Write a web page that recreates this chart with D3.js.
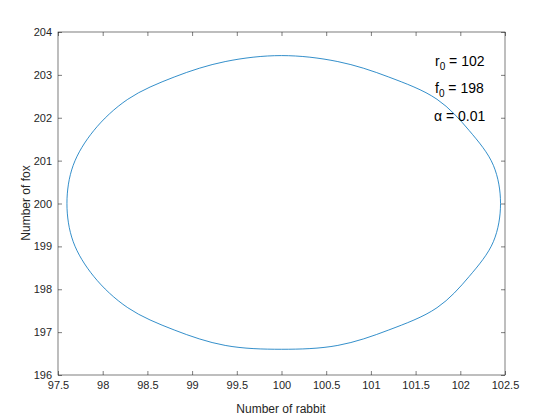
<!DOCTYPE html>
<html><head><meta charset="utf-8">
<script src="https://cdn.jsdelivr.net/npm/d3@7"></script>
<style>body{margin:0;background:#fff}text{font-family:"Liberation Sans",Arial,sans-serif}</style>
</head><body><svg id="c" width="560" height="420"></svg>
<script>
const rabbit=[102.45,102.37,102.1,101.74,101.2,100.63,100.0,99.37,98.8,98.28,97.9,97.67,97.6,97.67,97.9,98.28,98.8,99.37,100.0,100.63,101.2,101.74,102.1,102.37];
const fox=[200.0,200.89,201.7,202.43,202.95,203.31,203.45,203.31,202.95,202.43,201.7,200.89,200.0,199.11,198.3,197.57,197.05,196.69,196.6,196.69,197.05,197.57,198.3,199.11];
const xTicks=[97.5,98,98.5,99,99.5,100,100.5,101,101.5,102,102.5];
const yTicks=[196,197,198,199,200,201,202,203,204];
const svg=d3.select("#c");
const L=58,R=505,T=32,B=375;
const x=d3.scaleLinear().domain([97.5,102.5]).range([L,R]);
const y=d3.scaleLinear().domain([196,204]).range([B,T]);
svg.append("rect").attr("x",L).attr("y",T).attr("width",R-L).attr("height",B-T).attr("fill","#fff").attr("stroke","#262626").attr("stroke-width",0.6);
svg.append("g").attr("transform",`translate(0,${B})`).call(d3.axisBottom(x).tickValues(xTicks).tickFormat(d3.format("")).tickSize(-4).tickPadding(6));
svg.append("g").attr("transform",`translate(${L},0)`).call(d3.axisLeft(y).tickValues(yTicks).tickSize(-4).tickPadding(6));
svg.append("g").attr("transform",`translate(0,${T})`).call(d3.axisTop(x).tickValues(xTicks).tickFormat("").tickSize(-4));
svg.append("g").attr("transform",`translate(${R},0)`).call(d3.axisRight(y).tickValues(yTicks).tickFormat("").tickSize(-4));
svg.selectAll(".domain").remove();
svg.selectAll(".tick line").attr("stroke","#262626").attr("stroke-width",0.6);
svg.selectAll(".tick text").attr("font-size",11).attr("fill","#262626").attr("font-family","Liberation Sans,Arial,sans-serif");
const pts=rabbit.map((r,i)=>[r,fox[i]]);
svg.append("path").attr("d",d3.line().x(d=>x(d[0])).y(d=>y(d[1])).curve(d3.curveCatmullRomClosed.alpha(0.5))(pts)).attr("fill","none").attr("stroke","#0072BD").attr("stroke-width",0.8);
svg.append("text").attr("x",281).attr("y",413).attr("text-anchor","middle").attr("font-size",12).attr("fill","#262626").text("Number of rabbit");
svg.append("text").attr("transform","translate(30,203) rotate(-90)").attr("text-anchor","middle").attr("font-size",12).attr("fill","#262626").text("Number of fox");
const ann=svg.append("g").attr("font-size",14).attr("fill","#000");
let t=ann.append("text").attr("x",435).attr("y",66);t.append("tspan").text("r");t.append("tspan").attr("font-size",10).attr("dy",4).text("0");t.append("tspan").attr("dy",-4).text(" = 102");
t=ann.append("text").attr("x",435).attr("y",93);t.append("tspan").text("f");t.append("tspan").attr("font-size",10).attr("dy",4).text("0");t.append("tspan").attr("dy",-4).text(" = 198");
ann.append("text").attr("x",434).attr("y",121).text("α = 0.01");
</script></body></html>
